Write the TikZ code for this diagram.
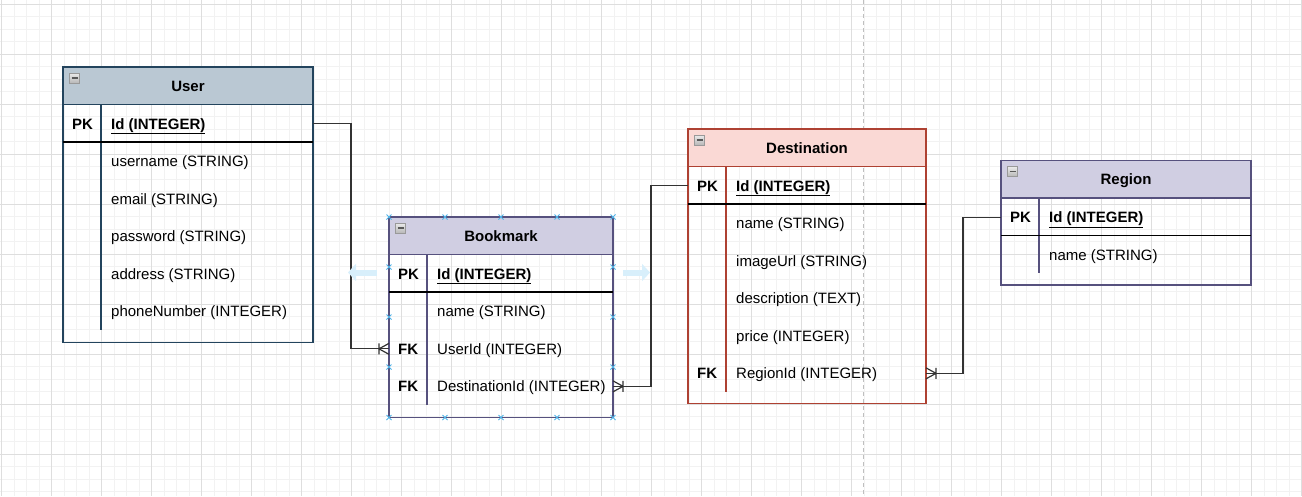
\documentclass[tikz,border=0pt]{standalone}
\usepackage{fontspec}
\setmainfont{Liberation Sans}
\usetikzlibrary{calc,positioning,arrows.meta}
\definecolor{userfill}{HTML}{BAC8D3}
\definecolor{userline}{HTML}{23445D}
\definecolor{purfill}{HTML}{D0CEE2}
\definecolor{purline}{HTML}{56517E}
\definecolor{destfill}{HTML}{FAD9D5}
\definecolor{destline}{HTML}{AE4132}
\definecolor{gridminor}{HTML}{F2F2F2}
\definecolor{gridmajor}{HTML}{DEDEDE}
\definecolor{selblue}{HTML}{4FB3E8}
\definecolor{hoverblue}{HTML}{D8EFFB}

\tikzset{
  hdr/.style={draw, line width=1.2pt, anchor=north west, minimum height=37.5pt, inner sep=0pt, outer sep=0pt,
    text height=11pt, text depth=0pt, font=\bfseries\fontsize{15}{18}\selectfont},
  tbl/.style={draw, line width=1.2pt, inner sep=0pt, outer sep=0pt},
  keytxt/.style={anchor=base west, inner sep=0pt, font=\bfseries\fontsize{15}{18}\selectfont},
  fld/.style={anchor=base west, inner sep=0pt, font=\fontsize{15}{18}\selectfont},
  pkline/.style={line width=1.5pt, black},
  rel/.style={line width=1.2pt, black!80},
  crowleft/.pic={\draw[rel] (-10,-5.5) -- (-10,5.5) (0,-5.5) -- (-10,0) -- (0,5.5);},
  crowright/.pic={\draw[rel] (10,-5.5) -- (10,5.5) (0,-5.5) -- (10,0) -- (0,5.5);},
  collapse/.style={draw=black!40, top color=black!8, bottom color=black!28, minimum size=10pt, inner sep=0pt,
    path picture={\draw[black!65, line width=1.5pt] ([xshift=2pt]path picture bounding box.west) -- ([xshift=-2pt]path picture bounding box.east);}},
  selmark/.pic={\draw[selblue, line width=1pt] (-2.5,-2.5) -- (2.5,2.5) (-2.5,2.5) -- (2.5,-2.5);},
  hover/.style={hoverblue, line width=6pt, -{Triangle[width=17pt,length=8pt]}}
}

\begin{document}
\begin{tikzpicture}[x=1pt,y=-1pt]
\useasboundingbox (0,0) rectangle (1302,496);
% grid
\foreach \i in {0,...,104}
  \draw[gridminor, line width=1pt] (1.5+12.5*\i,0) -- ++(0,496);
\foreach \j in {0,...,39}
  \draw[gridminor, line width=1pt] (0,4+12.5*\j) -- ++(1302,0);
\foreach \i in {0,...,26}
  \draw[gridmajor, line width=1pt] (1.5+50*\i,0) -- ++(0,496);
\foreach \j in {0,...,9}
  \draw[gridmajor, line width=1pt] (0,4+50*\j) -- ++(1302,0);
% page break
\draw[black!25, line width=1pt, dash pattern=on 4pt off 3pt] (863,0) -- (863,496);

% User
\node[hdr, fill=userfill, draw=userline, minimum width=250pt] (user) at (63,67) {User};
\node[tbl, draw=userline, minimum width=250pt, minimum height=238pt, below=0pt of user] (user-body) {};
\node[collapse] (user-min) at ($(user.north west)+(11.5,11)$) {};
\draw[userline, line width=1.2pt] ($(user-body.north west)+(38,0)$) -- ++(0,225);
\draw[pkline] ($(user-body.north west)+(0,37.5)$) -- ++(250,0);
\node[keytxt] (user-pk) at ($(user-body.north west)+(9,24.5)$) {PK};
\node[fld] (user-id) at ($(user-body.north west)+(48,24.5)$) {\textbf{\underline{Id (INTEGER)}}};
\foreach \f [count=\i] in {username (STRING),email (STRING),password (STRING),address (STRING),phoneNumber (INTEGER)}
  \node[fld] (user-f\i) at ($(user-body.north west)+(48,24.5+37.5*\i)$) {\f};

% Bookmark
\node[hdr, fill=purfill, draw=purline, minimum width=224pt] (bm) at (389,217) {Bookmark};
\node[tbl, draw=purline, minimum width=224pt, minimum height=163pt, below=0pt of bm] (bm-body) {};
\node[collapse] (bm-min) at ($(bm.north west)+(11.5,11)$) {};
\draw[purline, line width=1.2pt] ($(bm-body.north west)+(38,0)$) -- ++(0,150);
\draw[pkline] ($(bm-body.north west)+(0,37.5)$) -- ++(224,0);
\node[keytxt] (bm-pk) at ($(bm-body.north west)+(9,24.5)$) {PK};
\node[fld] (bm-id) at ($(bm-body.north west)+(48,24.5)$) {\textbf{\underline{Id (INTEGER)}}};
\foreach \f [count=\i] in {name (STRING),UserId (INTEGER),DestinationId (INTEGER)}
  \node[fld] (bm-f\i) at ($(bm-body.north west)+(48,24.5+37.5*\i)$) {\f};
\node[keytxt] (bm-k2) at ($(bm-body.north west)+(9,99.5)$) {FK};
\node[keytxt] (bm-k3) at ($(bm-body.north west)+(9,137)$) {FK};

% Destination
\node[hdr, fill=destfill, draw=destline, minimum width=238pt] (dest) at (688,129) {Destination};
\node[tbl, draw=destline, minimum width=238pt, minimum height=237pt, below=0pt of dest] (dest-body) {};
\node[collapse] (dest-min) at ($(dest.north west)+(11.5,11)$) {};
\draw[destline, line width=1.2pt] ($(dest-body.north west)+(38,0)$) -- ++(0,225);
\draw[pkline] ($(dest-body.north west)+(0,37.5)$) -- ++(238,0);
\node[keytxt] (dest-pk) at ($(dest-body.north west)+(9,24.5)$) {PK};
\node[fld] (dest-id) at ($(dest-body.north west)+(48,24.5)$) {\textbf{\underline{Id (INTEGER)}}};
\foreach \f [count=\i] in {name (STRING),imageUrl (STRING),description (TEXT),price (INTEGER),RegionId (INTEGER)}
  \node[fld] (dest-f\i) at ($(dest-body.north west)+(48,24.5+37.5*\i)$) {\f};
\node[keytxt] (dest-k5) at ($(dest-body.north west)+(9,212)$) {FK};

% Region
\node[hdr, fill=purfill, draw=purline, minimum width=250pt] (reg) at (1001,160.5) {Region};
\node[tbl, draw=purline, minimum width=250pt, minimum height=87pt, below=0pt of reg] (reg-body) {};
\node[collapse] (reg-min) at ($(reg.north west)+(11.5,11)$) {};
\draw[purline, line width=1.2pt] ($(reg-body.north west)+(38,0)$) -- ++(0,75);
\draw[pkline] ($(reg-body.north west)+(0,37.5)$) -- ++(250,0);
\node[keytxt] (reg-pk) at ($(reg-body.north west)+(9,24.5)$) {PK};
\node[fld] (reg-id) at ($(reg-body.north west)+(48,24.5)$) {\textbf{\underline{Id (INTEGER)}}};
\node[fld] (reg-f1) at ($(reg-body.north west)+(48,62)$) {name (STRING)};

% relations
\draw[rel] (user-pk -| user-body.east) -- ++(38,0) |- (bm-k2 -| bm-body.west);
\pic at (bm-k2 -| bm-body.west) {crowleft};
\draw[rel] (bm-k3 -| bm-body.east) -- ++(38,0) |- (dest-pk -| dest-body.west);
\pic at (bm-k3 -| bm-body.east) {crowright};
\draw[rel] (dest-k5 -| dest-body.east) -- ++(37,0) |- (reg-pk -| reg-body.west);
\pic at (dest-k5 -| dest-body.east) {crowright};

% selection of Bookmark
\foreach \u in {0,56,112,168,224} {
  \pic at ($(bm.north west)+(\u,0)$) {selmark};
  \pic at ($(bm-body.south west)+(\u,0)$) {selmark};
}
\foreach \v in {50,100,150} {
  \pic at ($(bm.north west)+(0,\v)$) {selmark};
  \pic at ($(bm.north east)+(0,\v)$) {selmark};
}
\draw[hover] ($(bm.north west)+(-12,55.5)$) -- ++(-29,0);
\draw[hover] ($(bm.north east)+(10,55.5)$) -- ++(27,0);
\end{tikzpicture}
\end{document}
